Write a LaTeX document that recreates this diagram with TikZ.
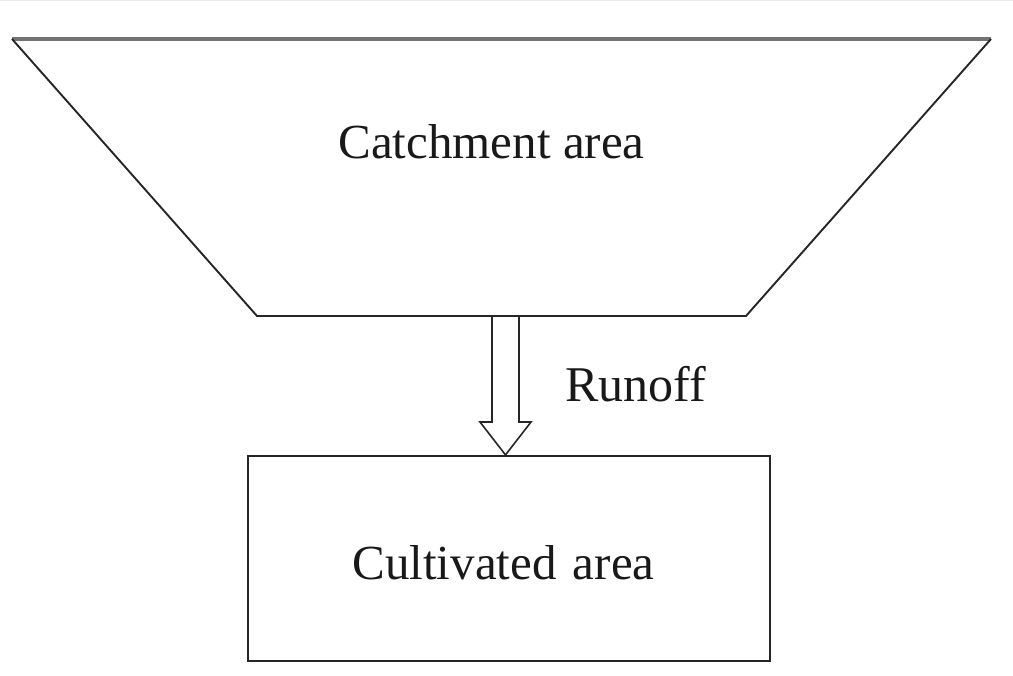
\documentclass[tikz,border=0pt]{standalone}
\usepackage{fontspec}
\setmainfont{Liberation Serif}
\usetikzlibrary{calc}
\begin{document}
\begin{tikzpicture}[x=1pt,y=-1pt,
  lbl/.style={font=\fontsize{49}{58}\selectfont, text=black!90, anchor=base, inner sep=0pt},
  edge/.style={draw=black!85, line width=1.9pt},
  box/.style={draw=black!85, line width=2.2pt, minimum width=522pt, minimum height=205pt, inner sep=0pt}]
\useasboundingbox (0,0) rectangle (1013,676);
\draw[black!8, line width=1pt] (0,0.8) -- (1013,0.8);
% catchment trapezoid
\coordinate (tl) at (12,39);
\coordinate (tr) at (991,39);
\coordinate (br) at (746,316);
\coordinate (bl) at (257,316);
\draw[black!55, line width=3.2pt] (tl) -- (tr);
\draw[edge, line join=miter] (tr) -- (br) -- (bl) -- (tl);
\node[lbl] (catch) at (491.5,159) {Catchment area};
% cultivated area
\node[box] (cult) at (509,558.5) {};
\node[lbl] (cultlbl) at (503.5,579) {Cultivated\hspace{4pt} area};
% runoff arrow
\coordinate (as) at (505.5,316);
\draw[edge, line width=1.6pt, line join=miter]
  ($(as)+(-13.5,0)$) -- ($(as)+(-13.5,106)$) -- ($(as)+(-25.5,106)$)
  -- (cult.north -| as) -- ($(as)+(25.5,106)$) -- ($(as)+(13.5,106)$) -- ($(as)+(13.5,0)$);
\node[lbl, font=\fontsize{50}{58}\selectfont] (runoff) at (636,402) {Runoff};
\end{tikzpicture}
\end{document}
